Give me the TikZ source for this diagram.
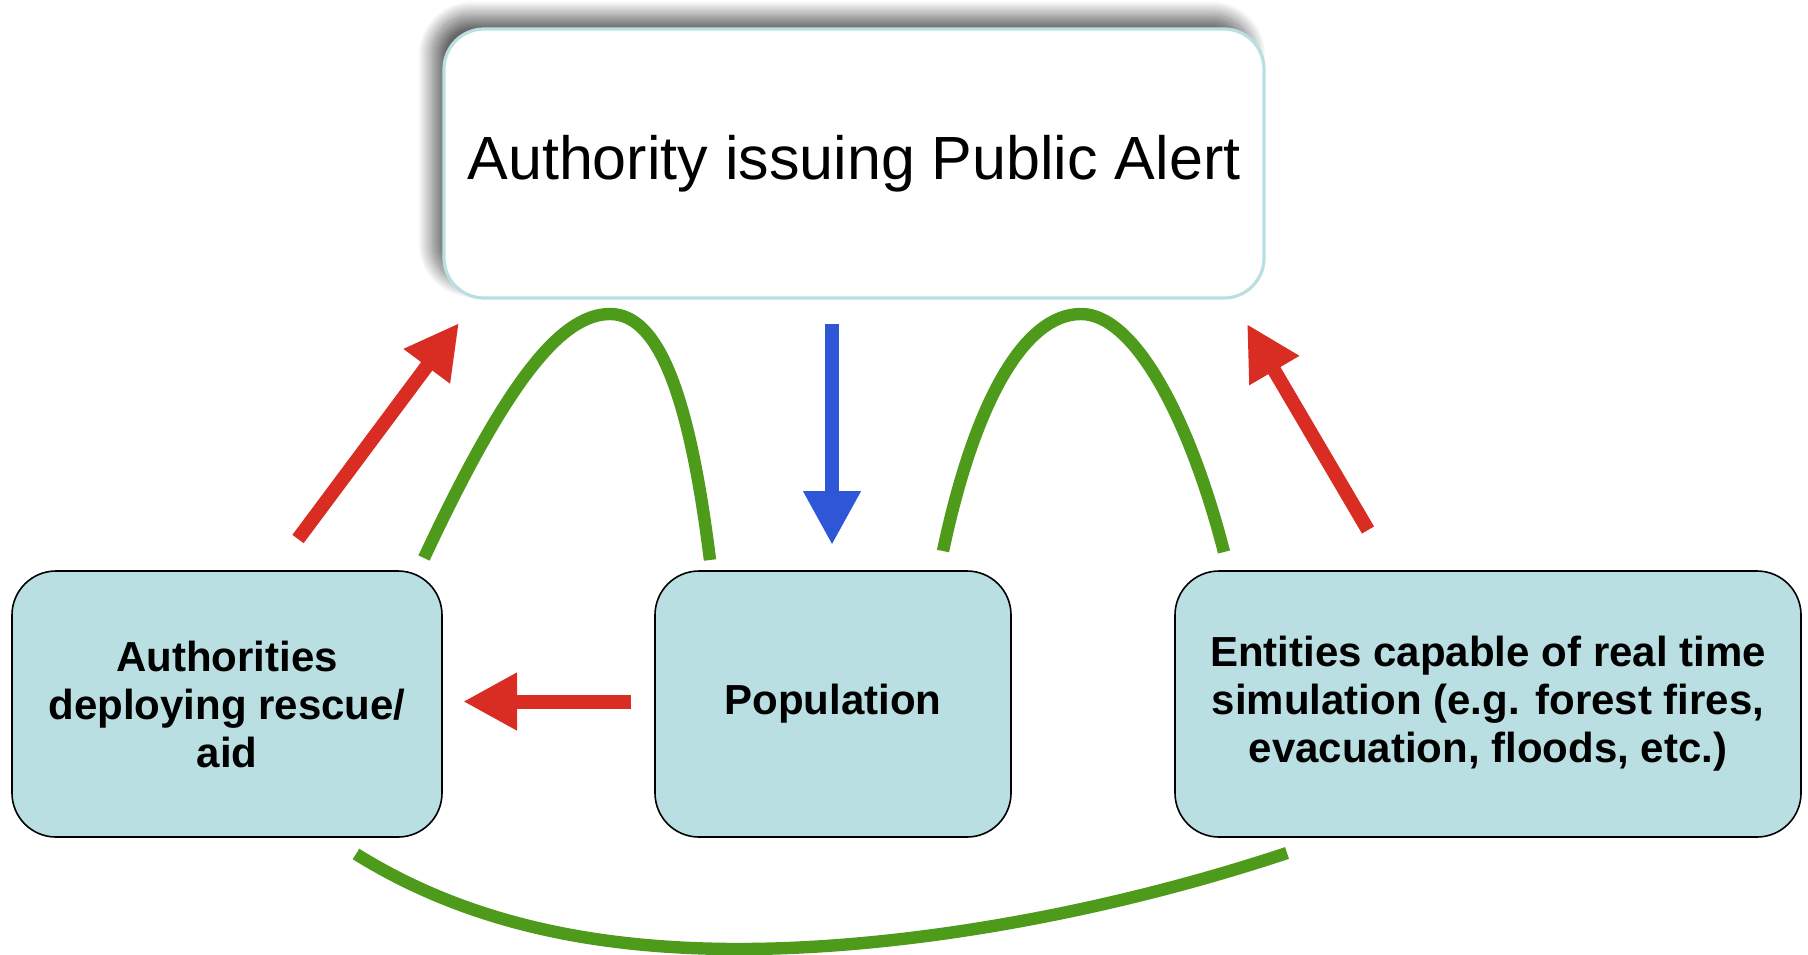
\documentclass[tikz,border=0pt]{standalone}
\usepackage{fontspec}
\setmainfont{Liberation Sans}
\usepackage{tikz}
\usetikzlibrary{arrows.meta,shadows.blur,positioning}
\definecolor{boxblue}{HTML}{B9DFE2}
\definecolor{alertred}{HTML}{D92D23}
\definecolor{loopgreen}{HTML}{4E9B1C}
\definecolor{downblue}{HTML}{2F56D6}

\begin{document}
\begin{tikzpicture}[x=0.5pt, y=-0.5pt,
  actor/.style={draw=black, line width=0.8pt, fill=boxblue, rounded corners=22pt,
    align=center, inner sep=0pt, minimum height=133pt,
    font=\fontsize{21}{24}\selectfont\bfseries},
  redarrow/.style={alertred, line width=7pt, -{Triangle[length=27pt, width=27pt]}},
  bluearrow/.style={downblue, line width=7pt, -{Triangle[length=27pt, width=27pt]}},
  loop/.style={loopgreen, line width=6.2pt}]
  \useasboundingbox (0,0) rectangle (1808,954);

  % ── The authority on top ──
  \node[draw=boxblue, line width=1.6pt, fill=white, rounded corners=20pt,
    minimum width=410pt, minimum height=134.5pt, inner sep=0pt,
    blur shadow={shadow xshift=-6pt, shadow yshift=7pt, shadow blur radius=7pt,
      shadow blur steps=30, shadow opacity=60},
    font=\fontsize{30.5}{36}\selectfont] (alert) at (854,163.5) {Authority issuing Public Alert};

  % The three actors below
  \node[actor, minimum width=215pt] (rescue) at (227,704) {Authorities\\deploying rescue/\\aid};
  \node[actor, minimum width=178pt] (pop) at (833,704) {Population};
  \node[actor, minimum width=313pt] (sim) at (1488,704)
    {Entities capable of real time\\simulation (e.g. forest fires,\\evacuation, floods, etc.)};

  % Arrow ends
  \coordinate (rescuefoot) at (298,539);
  \coordinate (alertleft) at (459,323);
  \coordinate (simfoot) at (1368,530);
  \coordinate (alertright) at (1247,324);
  \coordinate (popleft) at (631,701.5);
  \coordinate (rescueright) at (463,701.5);
  \coordinate (alertfoot) at (832,324);
  \coordinate (poptop) at (832,545);

  % Reports back to the authority
  \draw[redarrow] (rescuefoot) -- (alertleft);
  \draw[redarrow] (simfoot) -- (alertright);
  \draw[redarrow] (popleft) -- (rescueright);
  % The alert itself
  \draw[bluearrow] (alertfoot) -- (poptop);

  % Green loops
  \coordinate (loopA) at (424,558);
  \coordinate (loopB) at (710,560);
  \coordinate (loopC) at (943,551);
  \coordinate (loopD) at (1224,552);
  \coordinate (loopE) at (356,854);
  \coordinate (loopF) at (1287,853);
  \draw[loop] (loopA) .. controls (505,385) and (560,314) .. (610,314)
    .. controls (660,314) and (690,400) .. (loopB);
  \draw[loop] (loopC) .. controls (975,400) and (1025,314) .. (1081,314)
    .. controls (1135,314) and (1190,420) .. (loopD);
  \draw[loop] (loopE) .. controls (470,925) and (600,949) .. (739,949)
    .. controls (900,949) and (1100,915) .. (loopF);
\end{tikzpicture}
\end{document}
